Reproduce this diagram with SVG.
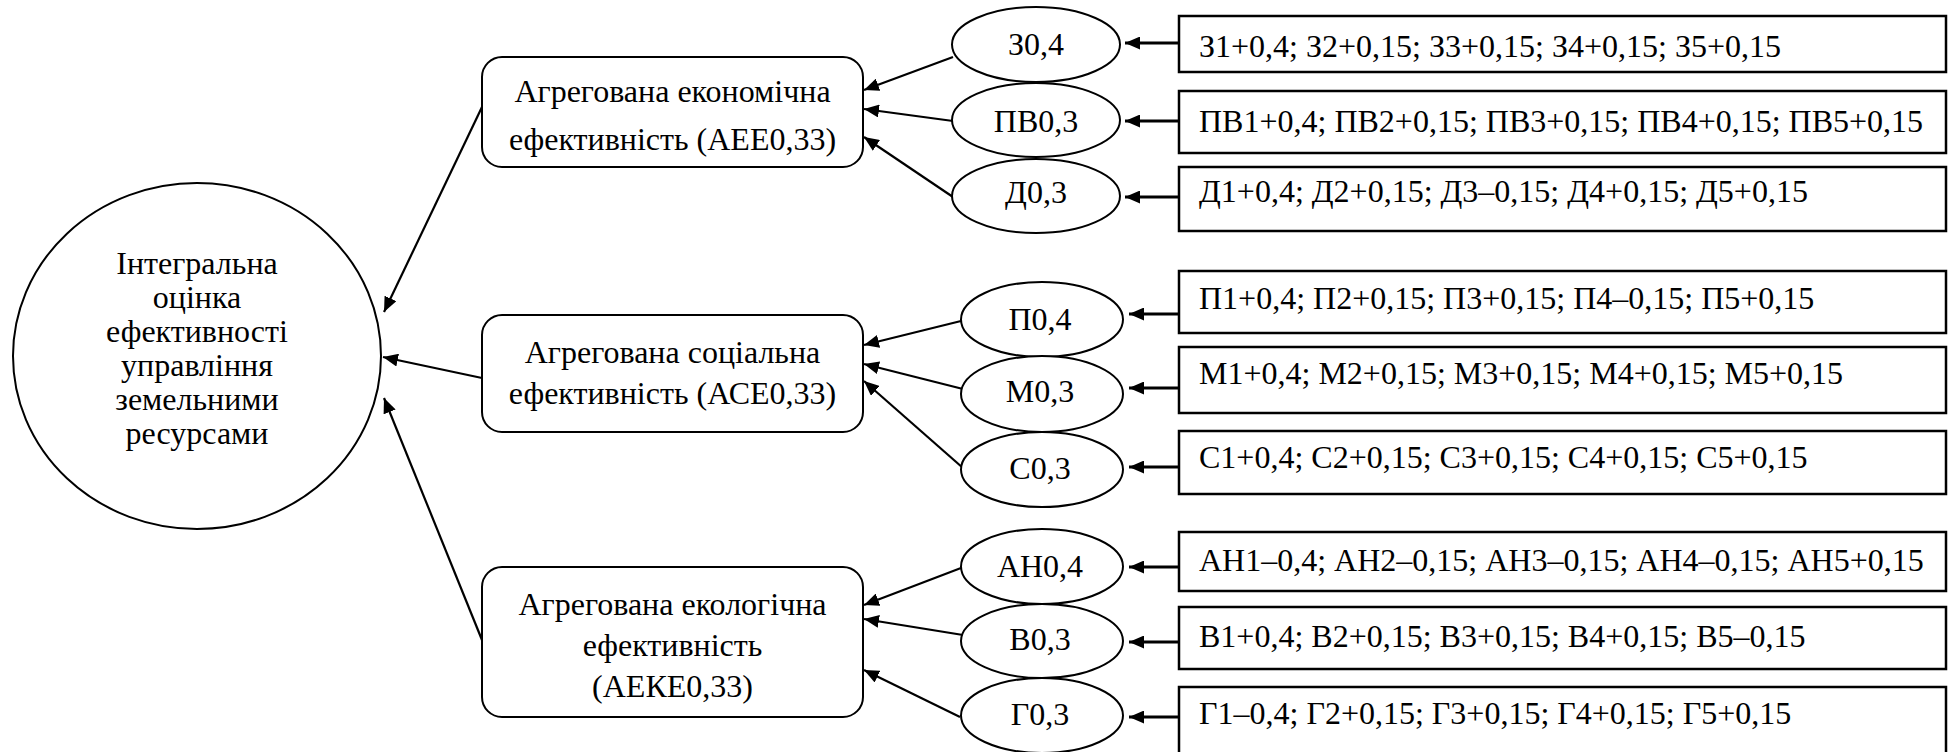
<svg xmlns="http://www.w3.org/2000/svg" width="1948" height="752" viewBox="0 0 1948 752">
<style>
text{font-family:'Liberation Serif','Times New Roman',serif;font-size:32px;fill:#000}
.c{text-anchor:middle}
.node{fill:#fff;stroke:#000;stroke-width:2}
.rect{fill:#fff;stroke:#000;stroke-width:2.5}
.ln{stroke:#000;stroke-width:2.2;fill:none}
.hl{stroke:#000;stroke-width:3;fill:none}
</style>
<defs>
<marker id="ah" viewBox="0 0 15 13" markerWidth="15" markerHeight="13" refX="15" refY="6.5" orient="auto" markerUnits="userSpaceOnUse"><path d="M0,0 L15,6.5 L0,13 z" fill="#000"/></marker>
</defs>
<rect width="1948" height="752" fill="#fff"/>

<g id="connectors">
<line class="ln" x1="482" y1="107" x2="384" y2="312" marker-end="url(#ah)"/>
<line class="ln" x1="482" y1="378" x2="383" y2="357" marker-end="url(#ah)"/>
<line class="ln" x1="482" y1="640" x2="384" y2="398" marker-end="url(#ah)"/>
<line class="ln" x1="953" y1="57" x2="864" y2="90" marker-end="url(#ah)"/>
<line class="ln" x1="953" y1="121" x2="864" y2="109" marker-end="url(#ah)"/>
<line class="ln" x1="953" y1="197" x2="864" y2="137" marker-end="url(#ah)"/>
<line class="ln" x1="961" y1="321" x2="864" y2="345" marker-end="url(#ah)"/>
<line class="ln" x1="963" y1="389" x2="864" y2="364" marker-end="url(#ah)"/>
<line class="ln" x1="963" y1="468" x2="864" y2="381" marker-end="url(#ah)"/>
<line class="ln" x1="961" y1="568" x2="864" y2="605" marker-end="url(#ah)"/>
<line class="ln" x1="963" y1="635" x2="864" y2="619" marker-end="url(#ah)"/>
<line class="ln" x1="960" y1="717" x2="864" y2="670" marker-end="url(#ah)"/>
<line class="hl" x1="1179" y1="43" x2="1125" y2="43" marker-end="url(#ah)"/>
<line class="hl" x1="1179" y1="121" x2="1125" y2="121" marker-end="url(#ah)"/>
<line class="hl" x1="1179" y1="197" x2="1125" y2="197" marker-end="url(#ah)"/>
<line class="hl" x1="1179" y1="314" x2="1129" y2="314" marker-end="url(#ah)"/>
<line class="hl" x1="1179" y1="388" x2="1129" y2="388" marker-end="url(#ah)"/>
<line class="hl" x1="1179" y1="467" x2="1129" y2="467" marker-end="url(#ah)"/>
<line class="hl" x1="1179" y1="567" x2="1129" y2="567" marker-end="url(#ah)"/>
<line class="hl" x1="1179" y1="642" x2="1129" y2="642" marker-end="url(#ah)"/>
<line class="hl" x1="1179" y1="717" x2="1129" y2="717" marker-end="url(#ah)"/>
</g>

<g id="root">
<ellipse class="node" cx="197" cy="356" rx="184" ry="173"/>
<text class="c" x="197" y="274">Інтегральна</text>
<text class="c" x="197" y="308">оцінка</text>
<text class="c" x="197" y="342">ефективності</text>
<text class="c" x="197" y="376">управління</text>
<text class="c" x="197" y="410">земельними</text>
<text class="c" x="197" y="444">ресурсами</text>
</g>

<g id="aee">
<rect class="node" x="482" y="57" width="381" height="110" rx="20"/>
<text class="c" x="672.5" y="102">Агрегована економічна</text>
<text class="c" x="672.5" y="150">ефективність (АЕЕ0,33)</text>
</g>
<g id="ace">
<rect class="node" x="482" y="315" width="381" height="117" rx="20"/>
<text class="c" x="672.5" y="363">Агрегована соціальна</text>
<text class="c" x="672.5" y="404">ефективність (АСЕ0,33)</text>
</g>
<g id="aeke">
<rect class="node" x="482" y="567" width="381" height="150" rx="20"/>
<text class="c" x="672.5" y="615">Агрегована екологічна</text>
<text class="c" x="672.5" y="656">ефективність</text>
<text class="c" x="672.5" y="697">(АЕКЕ0,33)</text>
</g>

<g id="z">
<ellipse class="node" cx="1036" cy="44.5" rx="84" ry="37.5"/>
<text class="c" x="1036" y="55">З0,4</text>
</g>
<g id="pv">
<ellipse class="node" cx="1036" cy="120" rx="84" ry="37"/>
<text class="c" x="1036" y="132">ПВ0,3</text>
</g>
<g id="d">
<ellipse class="node" cx="1036" cy="196" rx="84" ry="37"/>
<text class="c" x="1036" y="203">Д0,3</text>
</g>
<g id="p">
<ellipse class="node" cx="1042" cy="319.5" rx="81" ry="37.5"/>
<text class="c" x="1040" y="330">П0,4</text>
</g>
<g id="m">
<ellipse class="node" cx="1042" cy="394" rx="81" ry="38"/>
<text class="c" x="1040" y="402">М0,3</text>
</g>
<g id="s">
<ellipse class="node" cx="1042" cy="469.5" rx="81" ry="37.5"/>
<text class="c" x="1040" y="479">С0,3</text>
</g>
<g id="an">
<ellipse class="node" cx="1042" cy="566.5" rx="81" ry="37.5"/>
<text class="c" x="1040" y="577">АН0,4</text>
</g>
<g id="v">
<ellipse class="node" cx="1042" cy="641" rx="81" ry="37"/>
<text class="c" x="1040" y="650">В0,3</text>
</g>
<g id="g">
<ellipse class="node" cx="1042" cy="715.5" rx="81" ry="37.5"/>
<text class="c" x="1040" y="725">Г0,3</text>
</g>

<g id="rz"><rect class="rect" x="1179" y="16" width="767" height="56"/><text x="1199" y="57">З1+0,4; З2+0,15; З3+0,15; З4+0,15; З5+0,15</text></g>
<g id="rpv"><rect class="rect" x="1179" y="91" width="767" height="62"/><text x="1199" y="132">ПВ1+0,4; ПВ2+0,15; ПВ3+0,15; ПВ4+0,15; ПВ5+0,15</text></g>
<g id="rd"><rect class="rect" x="1179" y="167" width="767" height="64"/><text x="1199" y="202">Д1+0,4; Д2+0,15; Д3–0,15; Д4+0,15; Д5+0,15</text></g>
<g id="rp"><rect class="rect" x="1179" y="271" width="767" height="62"/><text x="1199" y="309">П1+0,4; П2+0,15; П3+0,15; П4–0,15; П5+0,15</text></g>
<g id="rm"><rect class="rect" x="1179" y="347" width="767" height="66"/><text x="1199" y="384">М1+0,4; М2+0,15; М3+0,15; М4+0,15; М5+0,15</text></g>
<g id="rs"><rect class="rect" x="1179" y="431" width="767" height="63"/><text x="1199" y="468">С1+0,4; С2+0,15; С3+0,15; С4+0,15; С5+0,15</text></g>
<g id="ran"><rect class="rect" x="1179" y="532" width="767" height="59"/><text x="1199" y="571">АН1–0,4; АН2–0,15; АН3–0,15; АН4–0,15; АН5+0,15</text></g>
<g id="rv"><rect class="rect" x="1179" y="607" width="767" height="62"/><text x="1199" y="647">В1+0,4; В2+0,15; В3+0,15; В4+0,15; В5–0,15</text></g>
<g id="rg"><rect class="rect" x="1179" y="687" width="767" height="80"/><text x="1199" y="724">Г1–0,4; Г2+0,15; Г3+0,15; Г4+0,15; Г5+0,15</text></g>
</svg>
